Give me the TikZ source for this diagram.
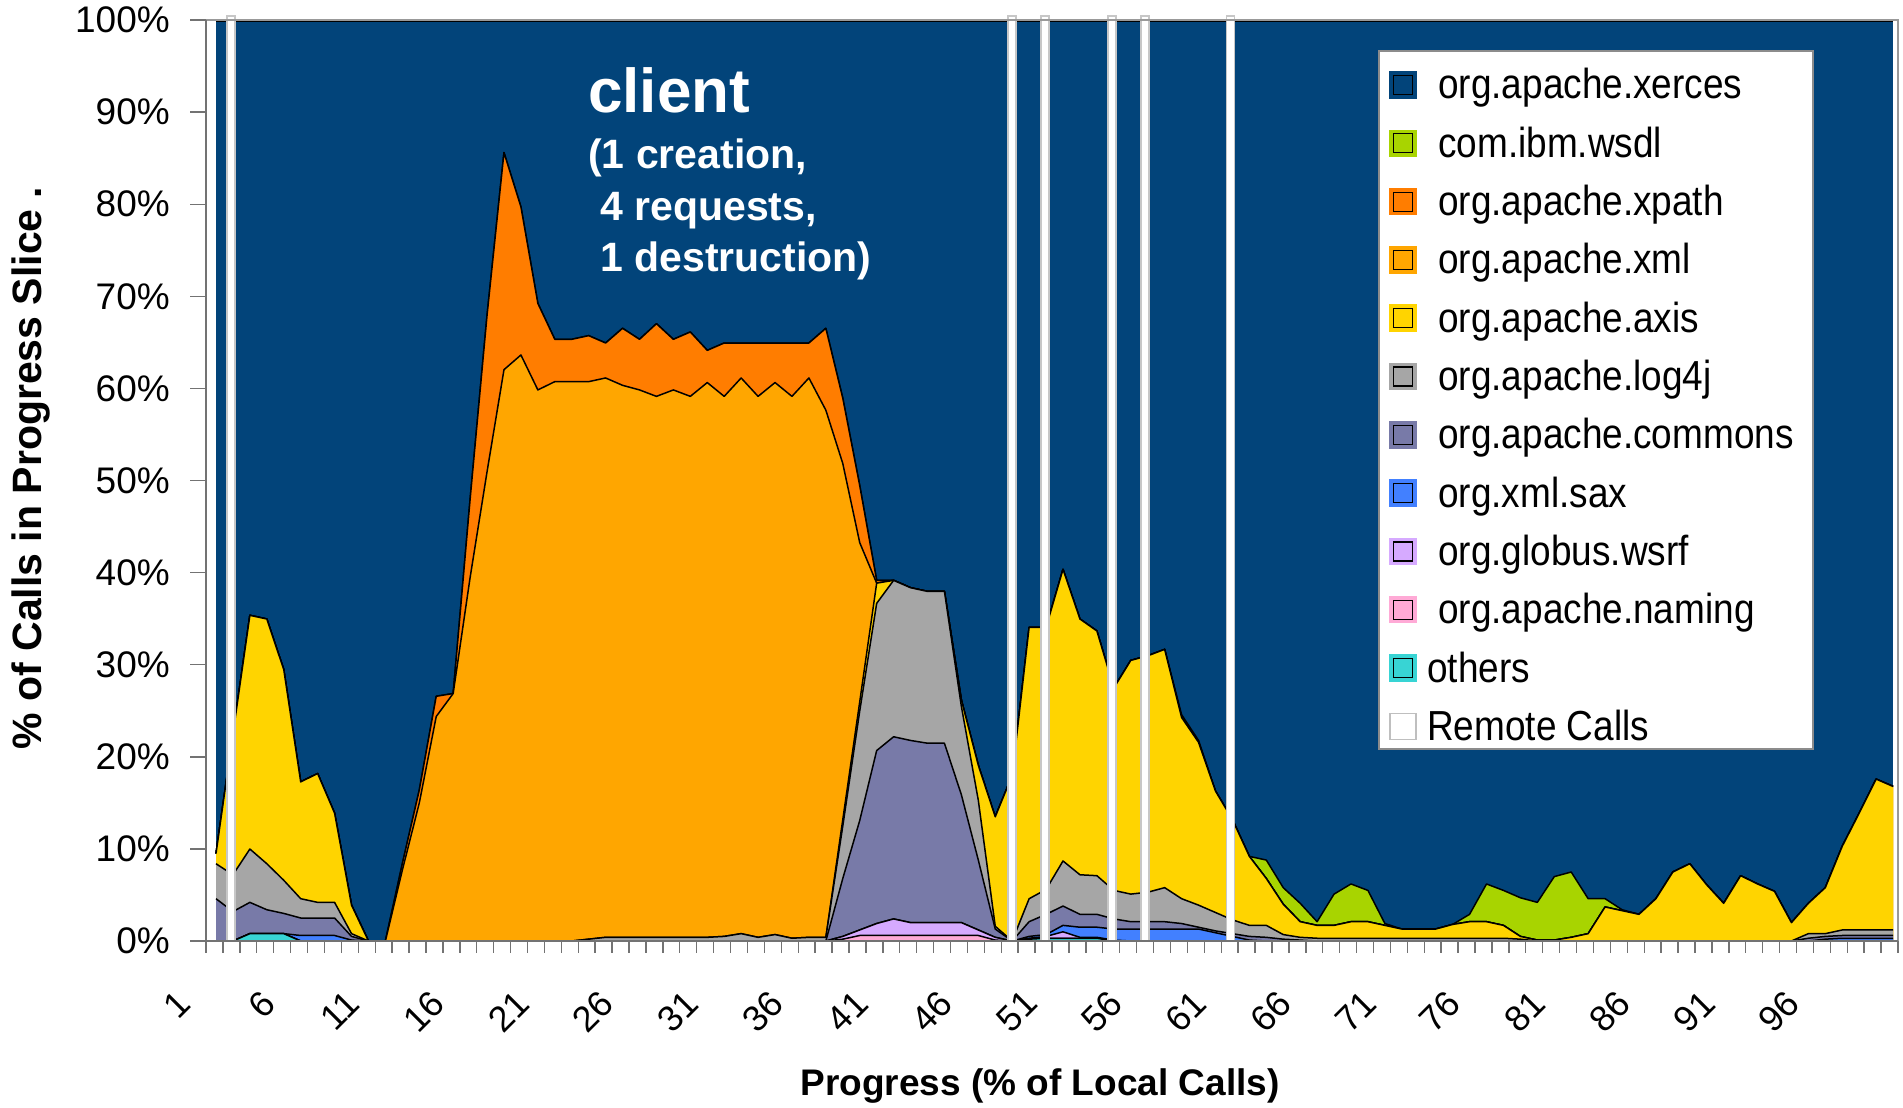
\documentclass[tikz,border=0pt]{standalone}
\usepackage{fontspec}
\setmainfont{Liberation Sans}
\usepackage{graphicx}

% series colours
\definecolor{cxerces}{RGB}{2,68,122}
\definecolor{cwsdl}{RGB}{168,212,0}
\definecolor{cxpath}{RGB}{255,125,0}
\definecolor{cxml}{RGB}{255,166,0}
\definecolor{caxis}{RGB}{255,212,0}
\definecolor{clogj}{RGB}{166,166,166}
\definecolor{ccommons}{RGB}{120,122,168}
\definecolor{csax}{RGB}{66,128,255}
\definecolor{cwsrf}{RGB}{214,170,255}
\definecolor{cnaming}{RGB}{255,170,214}
\definecolor{cothers}{RGB}{56,212,212}

% ---- cumulative series (100 points each, in percent) ----
\def\ZeroTen{0,0,0,0,0,0,0,0,0,0}
\def\AxA{9.5,22.5,35.4,35.0,29.5,17.3,18.2,13.9,3.9,0}
\def\AxB{39.2,38.4,38.0,38.0,26.2,19.1,13.5,18.0,34.1,34.1,
40.4,35.0,33.7,27.5,30.5,31.0,31.7,24.3,21.6,16.3,
13.2,9.2,6.8,4.0,2.1,1.7,1.7,2.1,2.1,1.7,
1.3,1.3,1.3,1.8,2.1,2.1,1.7,0.5,0.1,0.1,
0.4,0.8,3.7,3.3,2.9,4.6,7.5,8.4,6.1,4.1,
7.1,6.2,5.4,2.0,4.1,5.8,10.3,13.9,17.6,16.8}
\def\XpB{0,8.4,16.4,26.6,26.9,48,68,85.7,79.8,69.3,
65.4,65.4,65.8,65.0,66.6,65.4,67.1,65.4,66.2,64.2,
65.0,65.0,65.0,65.0,65.0,65.0,66.6,59,49.5,39.2}

% others
\edef\Cone{{0,0,0.8,0.8,0.8,0,0,0,0,0,\ZeroTen,\ZeroTen,\ZeroTen,
0,0,0,0,0,0,0,0,0.2,0.3,
0.3,0.3,0.3,0,0,0,0,0,0,0,
\ZeroTen,\ZeroTen,\ZeroTen,\ZeroTen}}
% naming
\edef\Ctwo{{0,0,0.8,0.8,0.8,0,0,0,0,0,\ZeroTen,\ZeroTen,
0,0,0,0,0,0,0,0.2,0.6,0.6,
0.6,0.6,0.6,0.6,0.6,0.6,0.1,0,0.2,0.3,
0.3,0.3,0.3,0,0,0,0,0,0,0,
\ZeroTen,\ZeroTen,\ZeroTen,\ZeroTen}}
% wsrf
\edef\Cthree{{0,0,0.8,0.8,0.8,0,0,0,0,0,\ZeroTen,\ZeroTen,
0,0,0,0,0,0,0,0.5,1.2,1.9,
2.4,2.0,2.0,2.0,2.0,1.2,0.4,0,0.3,0.5,
1.0,0.4,0.4,0.1,0,0,0,0,0,0,
\ZeroTen,\ZeroTen,\ZeroTen,\ZeroTen}}
% sax
\edef\Cfour{{0,0,0.8,0.8,0.8,0.6,0.6,0.6,0.1,0,\ZeroTen,\ZeroTen,
0,0,0,0,0,0,0,0.5,1.2,1.9,
2.4,2.0,2.0,2.0,2.0,1.2,0.4,0,0.5,0.7,
1.7,1.5,1.5,1.3,1.3,1.3,1.3,1.3,1.3,0.9,
0.5,0.1,0,0,0,0,0,0,0,0,
\ZeroTen,\ZeroTen,
0,0,0,0,0,0.2,0.3,0.3,0.3,0.3}}
% commons
\edef\Cfive{{4.6,3.2,4.2,3.4,3.0,2.5,2.5,2.5,0.5,0,\ZeroTen,\ZeroTen,
0,0,0,0,0,0,0,6.8,13.1,20.7,
22.2,21.8,21.5,21.5,15.9,8.8,1.3,0,2.1,2.9,
3.8,2.9,2.9,2.4,2.1,2.1,2.1,1.9,1.5,1.1,
0.8,0.5,0.4,0.2,0.1,0,0,0,0,0,
\ZeroTen,\ZeroTen,
0,0,0,0,0.3,0.5,0.6,0.6,0.6,0.6}}
% log4j
\edef\Csix{{8.4,7.2,10.0,8.4,6.6,4.6,4.2,4.2,0.8,0,\ZeroTen,
0,0,0.2,0.4,0.4,0.4,0.4,0.4,0.4,0.4,
0.5,0.8,0.4,0.7,0.3,0.4,0.4,12.5,25,36.7,
39.2,38.4,38.0,38.0,25.5,15.3,1.6,0,4.6,5.6,
8.7,7.2,7.1,5.5,5.1,5.3,5.8,4.6,3.9,3.1,
2.3,1.7,1.7,0.7,0.4,0.3,0.3,0.3,0.3,0.3,
0.3,0.3,0.3,0.3,0.3,0.3,0.3,0.2,0,0,
\ZeroTen,
0,0,0,0,0.8,0.8,1.2,1.2,1.2,1.2}}
% axis
\edef\Cseven{{\AxA,\ZeroTen,
0,0,0.2,0.4,0.4,0.4,0.4,0.4,0.4,0.4,
0.5,0.8,0.4,0.7,0.3,0.4,0.4,13.2,26,38.9,
\AxB}}
% xml
\edef\Ceight{{\AxA,
0,7.7,15.0,24.4,26.9,39.5,51,62.1,63.7,59.9,
60.8,60.8,60.8,61.2,60.4,59.9,59.2,59.9,59.2,60.7,
59.2,61.2,59.2,60.7,59.2,61.2,57.7,51.9,43.3,38.9,
\AxB}}
% xpath
\edef\Cnine{{\AxA,\XpB,\AxB}}
% wsdl
\edef\Cten{{\AxA,\XpB,
39.2,38.4,38.0,38.0,26.2,19.1,13.5,18.0,34.1,34.1,
40.4,35.0,33.7,27.5,30.5,31.0,31.7,24.6,21.8,16.3,
13.2,9.2,8.8,5.8,4.1,2.1,5.1,6.2,5.5,1.9,
1.3,1.3,1.3,1.8,2.9,6.2,5.5,4.7,4.2,7.0,
7.5,4.6,4.6,3.4,2.9,4.6,7.5,8.4,6.1,4.1,
7.1,6.2,5.4,2.0,4.1,5.8,10.3,13.9,17.6,16.8}}

% one stacked layer: filled down to zero, outlined on top
\newcommand\arealayer[2]{%
  \fill[#2] (1,0) -- plot[samples at={1,...,100}] (\x,{#1[int(\x)-1]}) -- (100,0) -- cycle;
  \draw[arealine] plot[samples at={1,...,100}] (\x,{#1[int(\x)-1]});
}

\begin{document}
\begin{tikzpicture}[x=1pt,y=-1pt,
  arealine/.style={draw=black,line width=1.5pt,line join=round},
  remotebar/.style={fill=white,draw=black!22,line width=1.2pt},
  axisline/.style={draw=black!55,line width=1.4pt},
  ylab/.style={anchor=east,inner sep=0pt,font=\fontsize{37}{40}\selectfont},
  xlab/.style={anchor=east,rotate=45,inner sep=0pt,font=\fontsize{36}{40}\selectfont},
  legtxt/.style={anchor=base west,inner sep=0pt,font=\fontsize{42}{44}\selectfont},
  whitetitle/.style={anchor=base west,inner sep=0pt,text=white}]
\useasboundingbox (0,0) rectangle (1903,1108);
\fill[white] (0,0) rectangle (1903,1108);

% ---- stacked areas ----
\begin{scope}[x=16.94pt,y=9.2pt,shift={(199.06pt,-941pt)}]
  \fill[cxerces] (1,0) rectangle (100,100);
  \draw[arealine] (1,100) -- (100,100);
  \arealayer{\Cten}{cwsdl}
  \arealayer{\Cnine}{cxpath}
  \arealayer{\Ceight}{cxml}
  \arealayer{\Cseven}{caxis}
  \arealayer{\Csix}{clogj}
  \arealayer{\Cfive}{ccommons}
  \arealayer{\Cfour}{csax}
  \arealayer{\Cthree}{cwsrf}
  \arealayer{\Ctwo}{cnaming}
  \arealayer{\Cone}{cothers}
\end{scope}

% ---- remote calls columns ----
\foreach \bx in {231,1012,1045,1112,1145,1230.5}
  \draw[remotebar] (\bx-4,16) rectangle (\bx+4,941);

% ---- axes and frame ----
\draw[draw=black!40,line width=1.2pt] (206,20) -- (1898,20) -- (1898,941);
\draw[axisline] (206,20) -- (206,941) -- (1898,941);
\foreach \k in {0,...,100}
  \draw[axisline] ({206+16.92*\k},941) -- ({206+16.92*\k},953);
\foreach \k in {0,...,10}{
  \draw[axisline] (190,{941-92.1*\k}) -- (206,{941-92.1*\k});
  \pgfmathtruncatemacro\yv{10*\k}
  \node[ylab] (ylab\k) at (170,{941-92.1*\k}) {\yv\%};
}
\foreach \i in {1,6,...,96}
  \node[xlab] (xlab\i) at ({216+16.94*(\i-1)-32},997) {\i};

\node[rotate=90,inner sep=0pt,font=\bfseries\fontsize{41}{44}\selectfont] (ytitle) at (31,468) {\% of Calls in Progress Slice .};
\node[inner sep=0pt,font=\bfseries\fontsize{37}{40}\selectfont] (xtitle) at (1040,1086) {Progress (\% of Local Calls)};

% ---- annotation ----
\node[whitetitle,font=\bfseries\fontsize{62}{66}\selectfont] (client) at (588,112) {client};
\node[whitetitle,font=\bfseries\fontsize{41}{44}\selectfont] (cline1) at (588,168) {(1 creation,};
\node[whitetitle,font=\bfseries\fontsize{41}{44}\selectfont] (cline2) at (600,220) {4 requests,};
\node[whitetitle,font=\bfseries\fontsize{41}{44}\selectfont] (cline3) at (600,271) {1 destruction)};

% ---- legend ----
\draw[fill=white,draw=black!45,line width=2pt] (1379,51) rectangle (1813,749);
\foreach \col/\txt/\tx [count=\k from 0] in {
  cxerces/org.apache.xerces/1438, cwsdl/com.ibm.wsdl/1438,
  cxpath/org.apache.xpath/1438, cxml/org.apache.xml/1438,
  caxis/org.apache.axis/1438, clogj/org.apache.log4j/1438,
  ccommons/org.apache.commons/1438, csax/org.xml.sax/1438,
  cwsrf/org.globus.wsrf/1438, cnaming/org.apache.naming/1438,
  cothers/others/1427}{
  \pgfmathsetmacro\cy{85+58.3*\k}
  \draw[fill=\col,draw=\col,line width=1.5pt] (1390,\cy-13) rectangle (1416,\cy+13);
  \draw[black,line width=1.2pt] (1393.5,\cy-9.5) rectangle (1412.5,\cy+9.5);
  \node[legtxt] (leg\k) at (\tx,\cy+14) {\scalebox{0.88}[1]{\txt}};
}
\draw[fill=white,draw=black!25,line width=1.5pt] (1390,{85+58.3*11-13}) rectangle (1416,{85+58.3*11+13});
\node[legtxt] (leg11) at (1427,{85+58.3*11+14}) {\scalebox{0.88}[1]{Remote Calls}};
\end{tikzpicture}
\end{document}
